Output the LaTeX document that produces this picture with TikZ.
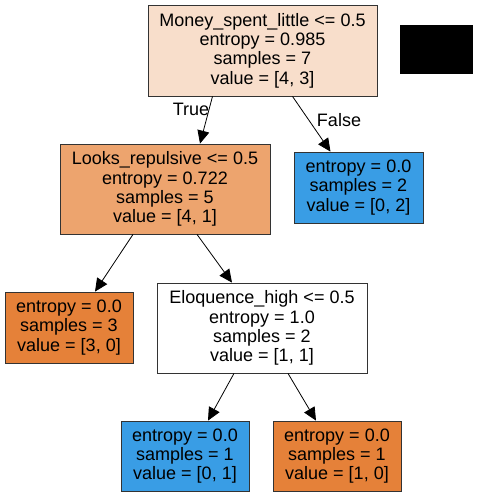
\documentclass[tikz,border=0pt]{standalone}
\usepackage{fontspec}
\setmainfont{Liberation Sans}
\usetikzlibrary{arrows.meta,calc}
\definecolor{rootc}{HTML}{F8DECB}
\definecolor{lookc}{HTML}{EDA46E}
\definecolor{orc}{HTML}{E58139}
\definecolor{blc}{HTML}{399DE5}
\tikzset{
  tnode/.style={draw=black!80, line width=0.8pt, align=center, inner sep=0pt,
    font=\fontsize{18}{19.3}\selectfont},
  edge/.style={line width=0.8pt, -{Triangle[length=13pt,width=12pt]}},
  elab/.style={font=\fontsize{18}{19}\selectfont, inner sep=0pt}
}
\begin{document}
\begin{tikzpicture}[x=1pt,y=-1pt]
\useasboundingbox (0,0) rectangle (479,497);
\node[tnode, fill=rootc, minimum width=229pt, minimum height=91pt] (root) at (262.5,50.5)
  {Money\_spent\_little <= 0.5\\entropy = 0.985\\samples = 7\\value = [4, 3]};
\fill[black] (400,25) rectangle (473,74);
\node[tnode, fill=lookc, minimum width=210pt, minimum height=90pt] (looks) at (165,189)
  {Looks\_repulsive <= 0.5\\entropy = 0.722\\samples = 5\\value = [4, 1]};
\node[tnode, fill=blc, minimum width=129pt, minimum height=71pt] (rleaf) at (358.5,187.5)
  {entropy = 0.0\\samples = 2\\value = [0, 2]};
\node[tnode, fill=orc, minimum width=128pt, minimum height=71pt] (lleaf) at (69,327.5)
  {entropy = 0.0\\samples = 3\\value = [3, 0]};
\node[tnode, fill=white, minimum width=210pt, minimum height=90pt] (eloq) at (262,328)
  {Eloquence\_high <= 0.5\\entropy = 1.0\\samples = 2\\value = [1, 1]};
\node[tnode, fill=blc, minimum width=128pt, minimum height=70pt] (bblue) at (185,456)
  {entropy = 0.0\\samples = 1\\value = [0, 1]};
\node[tnode, fill=orc, minimum width=128pt, minimum height=70pt] (borange) at (337,456)
  {entropy = 0.0\\samples = 1\\value = [1, 0]};

\draw[edge] ($(root.south)+(-50,0)$) -- ($(looks.north)+(35,0)$);
\draw[edge] ($(root.south)+(30,0)$) -- ($(rleaf.north)+(-28,0)$);
\draw[edge] ($(looks.south)+(-32,0)$) -- ($(lleaf.north)+(26,0)$);
\draw[edge] ($(looks.south)+(32,0)$) -- ($(eloq.north)+(-30,0)$);
\draw[edge] ($(eloq.south)+(-28,0)$) -- ($(bblue.north)+(23,0)$);
\draw[edge] ($(eloq.south)+(26,0)$) -- ($(borange.north)+(-21,0)$);

\node[elab] (tl) at (191,109) {True};
\node[elab] (fl) at (339,120) {False};
\end{tikzpicture}
\end{document}
